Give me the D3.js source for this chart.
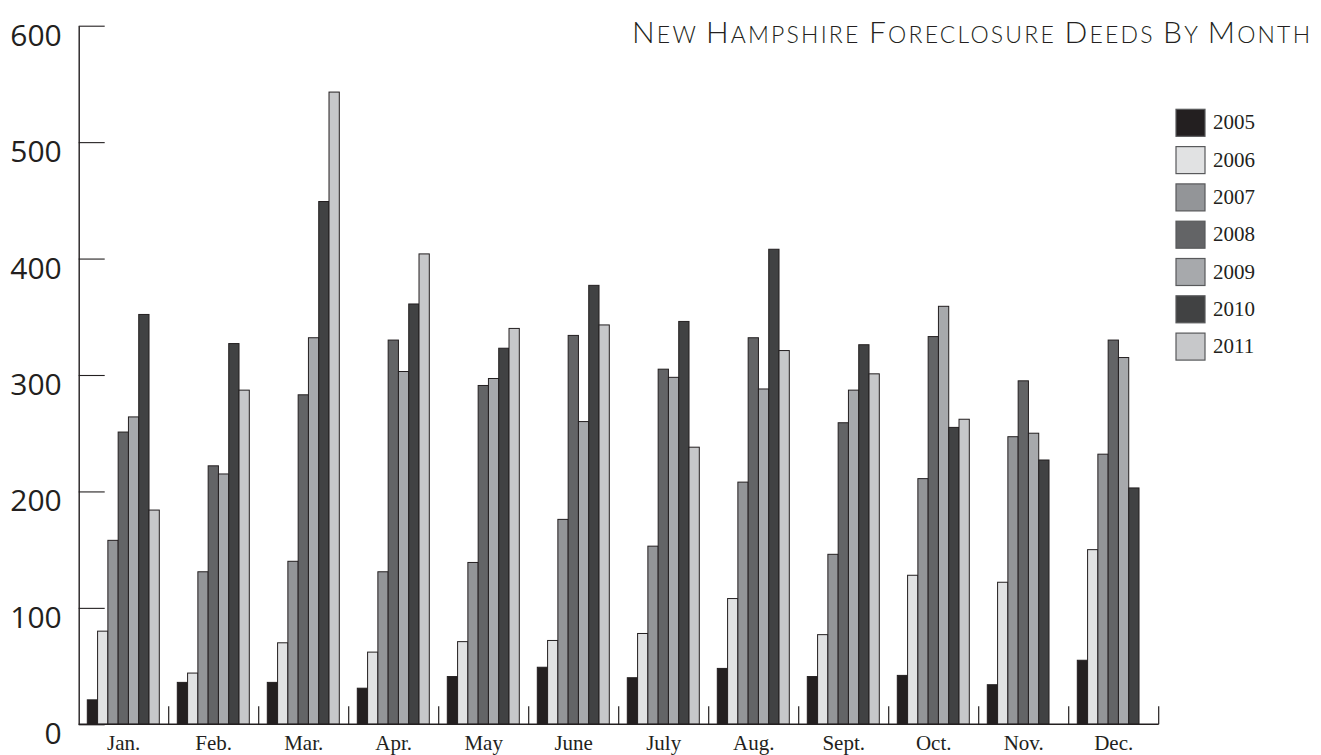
<!DOCTYPE html>
<html>
<head>
<meta charset="utf-8">
<script src="https://cdn.jsdelivr.net/npm/d3@7"></script>
<style>
  html, body { margin: 0; padding: 0; background: #fff; }
  svg { display: block; }
</style>
</head>
<body>
<svg id="chart" width="1321" height="755"></svg>
<script>
// ---- data ----
const months = ["Jan.", "Feb.", "Mar.", "Apr.", "May", "June", "July", "Aug.", "Sept.", "Oct.", "Nov.", "Dec."];
const years = ["2005", "2006", "2007", "2008", "2009", "2010", "2011"];
const v2005 = [21, 36, 36, 31, 41, 49, 40, 48, 41, 42, 34, 55];
const v2006 = [80, 44, 70, 62, 71, 72, 78, 108, 77, 128, 122, 150];
const v2007 = [158, 131, 140, 131, 139, 176, 153, 208, 146, 211, 247, 232];
const v2008 = [251, 222, 283, 330, 291, 334, 305, 332, 259, 333, 295, 330];
const v2009 = [264, 215, 332, 303, 297, 260, 298, 288, 287, 359, 250, 315];
const v2010 = [352, 327, 449, 361, 323, 377, 346, 408, 326, 255, 227, 203];
const v2011 = [184, 287, 543, 404, 340, 343, 238, 321, 301, 262, null, null];
const yTicks = [0, 100, 200, 300, 400, 500, 600];
const colors = ["#231f20", "#e1e2e3", "#939598", "#636466", "#a7a9ac", "#414243", "#c7c8ca"];
const titleWords = ["New", "Hampshire", "Foreclosure", "Deeds", "By", "Month"];

const series = [v2005, v2006, v2007, v2008, v2009, v2010, v2011];

(function () {
// ---- layout ----
const svg = d3.select("#chart");
const mLeft = 78.7, mRight = 1158.7, mTop = 25.7, mBottom = 724.3;

const x = d3.scaleBand().domain(months).range([mLeft, mRight]).paddingInner(0).paddingOuter(0);
const xi = d3.scaleBand().domain(years).range([8.6, 80.6]).paddingInner(0).paddingOuter(0);
const y = d3.scaleLinear().domain([0, 600]).range([mBottom, mTop]);
const color = d3.scaleOrdinal().domain(years).range(colors);

// bars
const data = [];
months.forEach((m, i) => {
  years.forEach((yr, j) => {
    const v = series[j][i];
    if (v != null) data.push({ month: m, year: yr, value: v });
  });
});

svg.append("g")
  .selectAll("rect")
  .data(data)
  .join("rect")
  .attr("x", d => x(d.month) + xi(d.year))
  .attr("y", d => y(d.value))
  .attr("width", xi.bandwidth())
  .attr("height", d => y(0) - y(d.value))
  .attr("fill", d => color(d.year))
  .attr("stroke", "#231f20")
  .attr("stroke-width", 1);

// y axis
const yAxis = svg.append("g")
  .attr("transform", `translate(${mLeft},0)`)
  .call(d3.axisLeft(y).tickValues(yTicks).tickSize(-26).tickSizeOuter(0).tickPadding(17).tickFormat(d3.format("d")));
yAxis.select(".domain").attr("stroke", "#231f20").attr("stroke-width", 1.4);
yAxis.selectAll(".tick line").attr("stroke", "#231f20").attr("stroke-width", 1.1);
yAxis.selectAll(".tick text")
  .attr("dy", "0.65em")
  .attr("fill", "#231f20")
  .style("font-family", "'Open Sans', 'Noto Sans', sans-serif")
  .style("font-size", "30px");

// x axis: baseline + separators
svg.append("line")
  .attr("x1", mLeft).attr("x2", mRight)
  .attr("y1", y(0)).attr("y2", y(0))
  .attr("stroke", "#231f20").attr("stroke-width", 1.4);

svg.append("g")
  .selectAll("line")
  .data(months)
  .join("line")
  .attr("x1", d => x(d) + x.bandwidth())
  .attr("x2", d => x(d) + x.bandwidth())
  .attr("y1", y(0))
  .attr("y2", y(0) - 18)
  .attr("stroke", "#231f20")
  .attr("stroke-width", 1.2);

const xAxis = svg.append("g")
  .attr("transform", `translate(0,${y(0)})`)
  .call(d3.axisBottom(x).tickSize(0).tickPadding(11));
xAxis.select(".domain").remove();
xAxis.selectAll(".tick text")
  .attr("fill", "#231f20")
  .style("font-family", "'Liberation Serif', 'DejaVu Serif', serif")
  .style("font-size", "21px");

// legend
const legend = svg.append("g").attr("transform", "translate(1176,109.3)");
const li = legend.selectAll("g")
  .data(years)
  .join("g")
  .attr("transform", (d, i) => `translate(0,${i * 37.3})`);
li.append("rect")
  .attr("width", 29).attr("height", 27)
  .attr("fill", d => color(d))
  .attr("stroke", "#58595b")
  .attr("stroke-width", 1.2);
li.append("text")
  .attr("x", 37).attr("y", 20)
  .attr("fill", "#231f20")
  .style("font-family", "'Liberation Serif', 'DejaVu Serif', serif")
  .style("font-size", "21px")
  .text(d => d);

// title (small caps built from tspans)
const title = svg.append("text")
  .attr("x", 632).attr("y", 43)
  .attr("textLength", 678)
  .attr("lengthAdjust", "spacing")
  .attr("fill", "#231f20")
  .style("font-family", "Lato, 'Open Sans', sans-serif")
  .style("font-weight", "300");
titleWords.forEach((w, i) => {
  title.append("tspan").style("font-size", "30px").text(w[0]);
  title.append("tspan").style("font-size", "23px")
    .text(w.slice(1).toUpperCase() + (i < titleWords.length - 1 ? " " : ""));
});
})();
</script>
</body>
</html>
